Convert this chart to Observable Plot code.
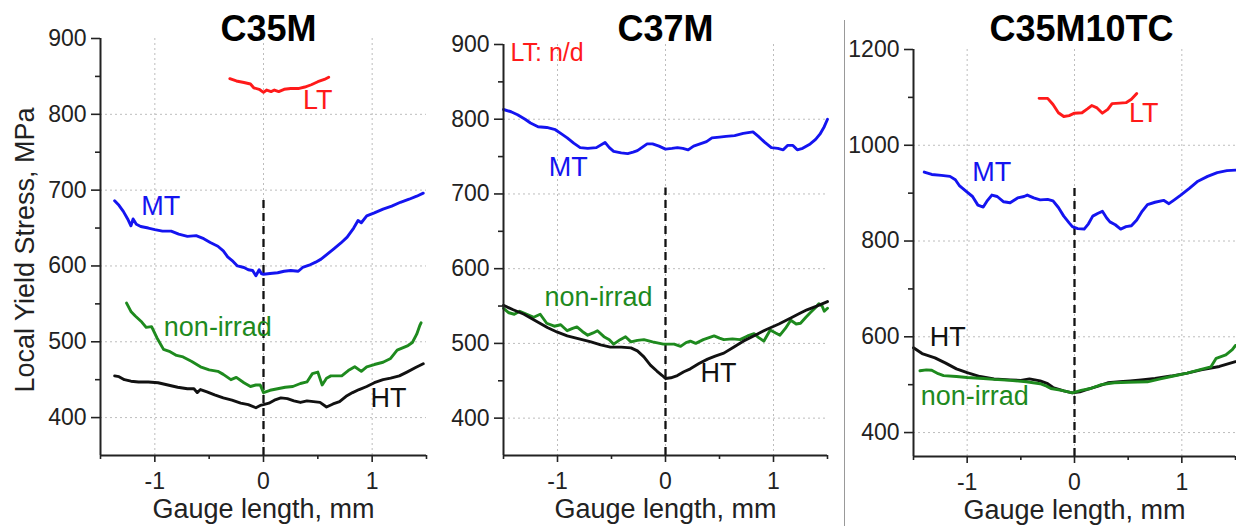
<!DOCTYPE html>
<html>
<head>
<meta charset="utf-8">
<script src="https://cdn.jsdelivr.net/npm/d3@7"></script>
<script src="https://cdn.jsdelivr.net/npm/@observablehq/plot@0.6"></script>
<style>
  html, body { margin: 0; padding: 0; background: #fff; }
  #wrap { position: relative; width: 1236px; height: 526px; overflow: hidden; background: #fff; }
  .panel { position: absolute; top: 0; }
  #sep { position: absolute; left: 844px; top: 20px; width: 1px; height: 506px; background: #999; }
</style>
</head>
<body>
<div id="wrap">
  <div class="panel" id="p1" style="left:0px"></div>
  <div class="panel" id="p2" style="left:430px"></div>
  <div id="sep"></div>
  <div class="panel" id="p3" style="left:845px"></div>
</div>
<script>
// ---------- Data (gauge length mm, local yield stress MPa) ----------
const titles = ["C35M", "C37M", "C35M10TC"];
const xMajorTicks = [-1, 0, 1];
const xMinorTicks = [-1.5, -0.5, 0.5, 1.5];

// C35M
const c35m_LT = [[-0.31,847],[-0.25,844],[-0.18,842],[-0.12,840],[-0.09,835],[-0.04,833],[0,829],[0.03,832],[0.07,830],[0.1,832],[0.14,830],[0.19,833],[0.25,834],[0.32,834],[0.38,836],[0.44,839],[0.5,843],[0.56,846],[0.6,849]];
const c35m_MT = [[-1.37,686],[-1.33,680],[-1.29,672],[-1.25,662],[-1.22,653],[-1.2,662],[-1.17,655],[-1.13,652],[-1.06,650],[-1.0,648],[-0.93,646],[-0.85,646],[-0.78,642],[-0.7,639],[-0.62,640],[-0.55,636],[-0.49,631],[-0.42,626],[-0.37,620],[-0.33,612],[-0.28,606],[-0.24,600],[-0.18,598],[-0.14,595],[-0.1,594],[-0.07,587],[-0.04,595],[-0.02,590],[0,589],[0.06,590],[0.13,591],[0.19,593],[0.25,594],[0.32,593],[0.36,598],[0.42,601],[0.48,605],[0.53,609],[0.59,616],[0.65,623],[0.71,630],[0.77,638],[0.83,650],[0.87,660],[0.9,657],[0.95,666],[1.02,670],[1.1,675],[1.18,679],[1.26,684],[1.34,688],[1.41,692],[1.47,696]];
const c35m_NI = [[-1.26,551],[-1.22,540],[-1.18,534],[-1.12,526],[-1.08,519],[-1.03,520],[-0.98,505],[-0.92,490],[-0.86,487],[-0.8,482],[-0.74,480],[-0.66,474],[-0.58,467],[-0.5,463],[-0.42,461],[-0.37,457],[-0.3,450],[-0.25,453],[-0.18,446],[-0.12,441],[-0.07,443],[-0.03,443],[0,433],[0.06,436],[0.13,438],[0.2,440],[0.27,441],[0.34,445],[0.4,447],[0.45,458],[0.5,460],[0.54,443],[0.58,452],[0.62,455],[0.72,455],[0.78,462],[0.84,467],[0.9,461],[0.95,467],[1.02,470],[1.1,473],[1.17,478],[1.23,489],[1.28,492],[1.33,495],[1.37,499],[1.41,510],[1.44,522],[1.45,525]];
const c35m_HT = [[-1.37,455],[-1.33,454],[-1.28,450],[-1.22,448],[-1.15,447],[-1.06,447],[-0.97,446],[-0.88,443],[-0.79,440],[-0.7,438],[-0.64,438],[-0.61,433],[-0.58,437],[-0.52,434],[-0.45,430],[-0.37,426],[-0.29,423],[-0.21,419],[-0.14,417],[-0.07,413],[-0.03,416],[0,417],[0.05,419],[0.1,423],[0.16,426],[0.22,425],[0.28,422],[0.34,420],[0.4,422],[0.46,421],[0.52,420],[0.58,414],[0.64,418],[0.7,421],[0.76,428],[0.82,433],[0.88,437],[0.95,441],[1.02,446],[1.1,450],[1.17,452],[1.25,455],[1.32,460],[1.4,466],[1.47,471]];

// C37M
const c37m_MT = [[-1.5,813],[-1.43,810],[-1.37,806],[-1.3,800],[-1.25,795],[-1.18,790],[-1.1,789],[-1.02,786],[-0.96,780],[-0.91,775],[-0.85,768],[-0.79,762],[-0.72,761],[-0.64,762],[-0.56,769],[-0.52,762],[-0.48,757],[-0.41,755],[-0.35,754],[-0.3,756],[-0.26,758],[-0.21,763],[-0.17,767],[-0.12,767],[-0.06,764],[0,760],[0.06,761],[0.11,762],[0.16,761],[0.21,759],[0.26,764],[0.32,767],[0.38,770],[0.43,775],[0.5,776],[0.56,777],[0.64,778],[0.72,781],[0.81,783],[0.86,777],[0.92,769],[0.98,762],[1.04,761],[1.09,759],[1.13,765],[1.18,765],[1.22,759],[1.27,761],[1.34,767],[1.39,773],[1.43,780],[1.47,790],[1.5,800]];
const c37m_NI = [[-1.5,547],[-1.45,541],[-1.4,539],[-1.35,543],[-1.3,540],[-1.22,535],[-1.16,539],[-1.1,527],[-1.03,523],[-0.97,525],[-0.91,517],[-0.86,520],[-0.82,522],[-0.77,516],[-0.72,511],[-0.67,514],[-0.63,517],[-0.57,509],[-0.52,505],[-0.48,499],[-0.42,505],[-0.37,509],[-0.32,502],[-0.26,504],[-0.2,505],[-0.12,502],[-0.02,499],[0.08,499],[0.14,496],[0.19,501],[0.23,503],[0.28,500],[0.35,505],[0.45,510],[0.5,507],[0.54,505],[0.62,506],[0.69,505],[0.76,510],[0.82,513],[0.86,508],[0.91,503],[0.97,518],[1.02,514],[1.06,511],[1.11,520],[1.16,531],[1.21,526],[1.25,527],[1.3,535],[1.34,541],[1.39,548],[1.42,553],[1.45,550],[1.47,543],[1.5,547]];
const c37m_HT = [[-1.5,551],[-1.41,545],[-1.31,539],[-1.2,530],[-1.09,521],[-1.0,515],[-0.91,510],[-0.8,506],[-0.69,502],[-0.6,498],[-0.51,495],[-0.41,495],[-0.32,494],[-0.26,490],[-0.2,482],[-0.14,471],[-0.08,463],[-0.03,457],[0,453],[0.05,454],[0.11,457],[0.17,462],[0.23,466],[0.31,473],[0.39,479],[0.46,483],[0.54,487],[0.63,495],[0.72,503],[0.83,511],[0.94,519],[1.05,526],[1.16,534],[1.24,540],[1.31,545],[1.4,550],[1.5,556]];

// C35M10TC
const c35m10tc_LT = [[-0.33,1098],[-0.25,1098],[-0.2,1085],[-0.15,1068],[-0.1,1060],[-0.05,1062],[0,1067],[0.07,1068],[0.12,1076],[0.16,1083],[0.21,1078],[0.26,1067],[0.31,1075],[0.35,1087],[0.42,1088],[0.48,1089],[0.53,1096],[0.58,1108]];
const c35m10tc_MT = [[-1.4,944],[-1.33,939],[-1.24,937],[-1.16,935],[-1.11,928],[-1.07,915],[-1.0,902],[-0.95,893],[-0.9,875],[-0.85,871],[-0.81,885],[-0.77,896],[-0.72,893],[-0.66,882],[-0.6,880],[-0.53,890],[-0.47,893],[-0.44,896],[-0.38,890],[-0.32,886],[-0.25,887],[-0.2,884],[-0.15,870],[-0.1,852],[-0.05,838],[-0.02,830],[0.03,826],[0.09,825],[0.13,836],[0.17,852],[0.22,858],[0.26,862],[0.3,848],[0.33,840],[0.38,834],[0.43,825],[0.48,830],[0.53,832],[0.58,844],[0.63,862],[0.68,876],[0.75,881],[0.83,885],[0.88,878],[0.93,886],[0.99,896],[1.07,910],[1.15,925],[1.24,935],[1.33,943],[1.42,947],[1.5,948]];
const c35m10tc_HT = [[-1.5,577],[-1.42,565],[-1.3,556],[-1.2,545],[-1.1,533],[-1.0,525],[-0.88,517],[-0.75,512],[-0.6,510],[-0.5,509],[-0.42,512],[-0.32,508],[-0.25,502],[-0.2,494],[-0.1,487],[-0.02,483],[0.05,485],[0.12,490],[0.22,497],[0.31,504],[0.42,506],[0.52,508],[0.62,510],[0.75,513],[0.9,518],[1.05,524],[1.18,531],[1.35,538],[1.5,548]];
const c35m10tc_NI = [[-1.44,529],[-1.38,531],[-1.33,530],[-1.27,523],[-1.22,519],[-1.1,517],[-1.0,515],[-0.85,513],[-0.75,511],[-0.6,509],[-0.45,506],[-0.32,502],[-0.26,497],[-0.22,492],[-0.12,488],[-0.02,483],[0.06,488],[0.15,492],[0.25,500],[0.37,504],[0.5,505],[0.68,506],[0.8,512],[0.9,517],[1.05,524],[1.18,532],[1.27,537],[1.32,555],[1.41,562],[1.47,573],[1.5,582]];

// Series labels: [text, x, y, series]
const c35m_labels = [["LT",0.5,818,"LT"],["MT",-0.945,678,"MT"],["non-irrad",-0.42,519,"NI"],["HT",1.15,425,"HT"]];
const c37m_labels = [["MT",-0.9,736,"MT"],["non-irrad",-0.62,562,"NI"],["HT",0.49,460,"HT"]];
const c35m10tc_labels = [["LT",0.645,1067,"LT"],["MT",-0.77,944,"MT"],["HT",-1.18,598,"HT"],["non-irrad",-0.93,475,"NI"]];
const c37m_note = [["LT: n/d",-1.435,888]];

// y ticks
const c35m_yMajor = [400,500,600,700,800,900], c35m_yMinor = [450,550,650,750,850];
const c37m_yMajor = [400,500,600,700,800,900], c37m_yMinor = [450,550,650,750,850];
const c35m10tc_yMajor = [400,600,800,1000,1200], c35m10tc_yMinor = [500,700,900,1100];
const c35m_yGrid = [400,500,600,700,800], c37m_yGrid = [400,500,600,700,800], c35m10tc_yGrid = [400,600,800,1000];

// dashed x=0 line extent
const c35m_dash = [350, 692], c37m_dash = [350, 708], c35m10tc_dash = [350, 912];

// ---------- Drawing ----------
const colors = {LT: "#ff1a1a", MT: "#1414f0", NI: "#1e8a1e", HT: "#111111"};
const FONT = "'Liberation Sans', Arial, Helvetica, sans-serif";

function panel(cfg) {
  const marks = [
    Plot.gridX(xMajorTicks, {stroke: "#bdbdbd", strokeOpacity: 1, strokeDasharray: "2,3", strokeWidth: 1}),
    Plot.gridY(cfg.yGrid, {stroke: "#bdbdbd", strokeOpacity: 1, strokeDasharray: "2,3", strokeWidth: 1}),
    Plot.ruleX([0], {y1: cfg.dash[0], y2: cfg.dash[1], stroke: "#111", strokeWidth: 2.3, strokeDasharray: "8,5"})
  ];
  for (const s of cfg.series) {
    marks.push(Plot.line(s.data, {x: d => d[0], y: d => d[1], stroke: colors[s.key], strokeWidth: 2.9, curve: "linear"}));
  }
  marks.push(Plot.text(cfg.labels, {x: d => d[1], y: d => d[2], text: d => d[0], fill: d => colors[d[3]], fontSize: 27, textAnchor: "middle"}));
  if (cfg.note) marks.push(Plot.text(cfg.note, {x: d => d[1], y: d => d[2], text: d => d[0], fill: colors.LT, fontSize: 25, textAnchor: "start"}));
  // axes
  marks.push(
    Plot.axisX(xMajorTicks, {tickSize: 7, tickPadding: 10, tickFormat: d => String(d), fontSize: 23, fill: "#222", stroke: "#222", strokeWidth: 1.6, label: null}),
    Plot.axisX(xMinorTicks, {tickSize: 4, text: null, stroke: "#222", strokeWidth: 1.6, label: null}),
    Plot.axisY(cfg.yMajor, {tickSize: 9, tickPadding: 5, tickFormat: d => String(d), fontSize: 23, fill: "#222", stroke: "#222", strokeWidth: 1.6, label: null}),
    Plot.axisY(cfg.yMinor, {tickSize: 5, text: null, stroke: "#222", strokeWidth: 1.6, label: null}),
    Plot.ruleY([cfg.yDomain[0]], {stroke: "#222", strokeWidth: 2}),
    Plot.ruleX([-1.5], {stroke: "#222", strokeWidth: 2}),
    Plot.text([cfg.title], {frameAnchor: "top", lineAnchor: "middle", textAnchor: "middle", dy: -(cfg.marginTop - 29), dx: cfg.titleDx, fontSize: 36, fontWeight: "bold", fill: "#000"}),
    Plot.text(["Gauge length, mm"], {frameAnchor: "bottom", lineAnchor: "middle", textAnchor: "middle", dy: 54, fontSize: 27, fill: "#222"})
  );
  if (cfg.ylabel) marks.push(Plot.text([cfg.ylabel], {frameAnchor: "left", textAnchor: "middle", lineAnchor: "middle", dx: -75, dy: 3, rotate: -90, fontSize: 27, fill: "#222"}));
  return Plot.plot({
    width: cfg.width, height: 526,
    marginLeft: cfg.marginLeft, marginRight: cfg.marginRight, marginTop: cfg.marginTop, marginBottom: cfg.marginBottom,
    x: {domain: [-1.5, 1.5]},
    y: {domain: cfg.yDomain},
    style: {fontFamily: FONT, fontSize: "23px", background: "transparent", overflow: "visible", color: "#222"},
    marks
  });
}

document.getElementById("p1").appendChild(panel({
  title: titles[0], titleDx: 5, width: 430, marginLeft: 100, marginRight: 4, marginTop: 38, marginBottom: 71,
  yDomain: [350, 900], yMajor: c35m_yMajor, yMinor: c35m_yMinor, yGrid: c35m_yGrid, dash: c35m_dash,
  series: [{key: "LT", data: c35m_LT}, {key: "MT", data: c35m_MT}, {key: "NI", data: c35m_NI}, {key: "HT", data: c35m_HT}],
  labels: c35m_labels, ylabel: "Local Yield Stress, MPa"
}));
document.getElementById("p2").appendChild(panel({
  title: titles[1], titleDx: 0, width: 400, marginLeft: 73, marginRight: 3, marginTop: 44, marginBottom: 71,
  yDomain: [350, 900], yMajor: c37m_yMajor, yMinor: c37m_yMinor, yGrid: c37m_yGrid, dash: c37m_dash,
  series: [{key: "MT", data: c37m_MT}, {key: "NI", data: c37m_NI}, {key: "HT", data: c37m_HT}],
  labels: c37m_labels, note: c37m_note
}));
document.getElementById("p3").appendChild(panel({
  title: titles[2], titleDx: 7, width: 391, marginLeft: 68, marginRight: 1, marginTop: 49, marginBottom: 70,
  yDomain: [350, 1200], yMajor: c35m10tc_yMajor, yMinor: c35m10tc_yMinor, yGrid: c35m10tc_yGrid, dash: c35m10tc_dash,
  series: [{key: "LT", data: c35m10tc_LT}, {key: "MT", data: c35m10tc_MT}, {key: "HT", data: c35m10tc_HT}, {key: "NI", data: c35m10tc_NI}],
  labels: c35m10tc_labels
}));
</script>
</body>
</html>
